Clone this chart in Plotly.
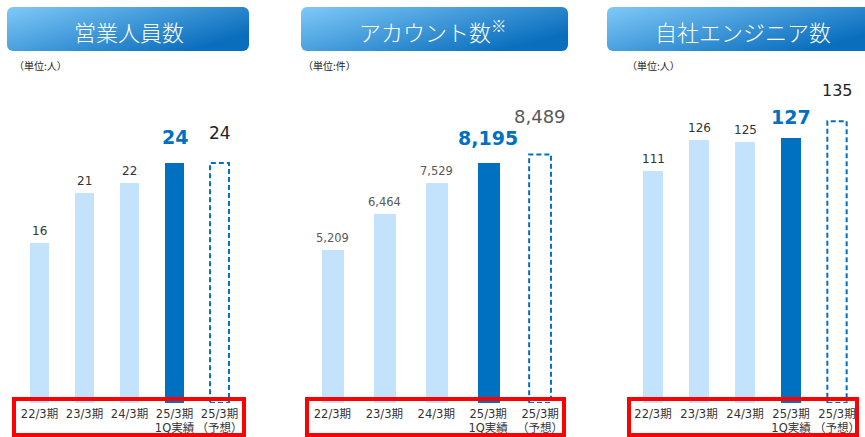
import base64
import plotly.graph_objects as go

# ---------------- data ----------------
categories = ["22/3期", "23/3期", "24/3期", "25/3期 1Q実績", "25/3期 予想"]
tick_labels = ["22/3期", "23/3期", "24/3期", "25/3期<br>1Q実績", "25/3期<br>（予想）"]
sales_staff = [16, 21, 22, 24, 24]
accounts = [5209, 6464, 7529, 8195, 8489]
engineers = [111, 126, 125, 127, 135]
titles = ["営業人員数", "アカウント数<sup>※</sup>", "自社エンジニア数"]
units = ["（単位:人）", "（単位:件）", "（単位:人）"]
series = [sales_staff, accounts, engineers]
value_formats = ["{:d}", "{:,}", "{:d}"]

# ---------------- style ----------------
W, H = 865, 437
FONT = "Noto Sans CJK JP, Noto Sans, sans-serif"
NUM_FONT = "DejaVu Sans, Noto Sans CJK JP, sans-serif"
LIGHT = "#C2E3FB"
DARK = "#0070C0"
RED = "#FF0000"
BAR_W = 0.42

panels = [
    dict(xdom=(17, 242), ymax=40.3, header=(7, 249), unit_x=12,
         box=(14, 244), small_col="#333333", fc_col="#222222", fc_size=17,
         fc_off=30, act_off=26, small_size=12),
    dict(xdom=(306.5, 566), ymax=13761, header=(301, 568), unit_x=301,
         box=(307, 564), small_col="#595959", fc_col="#595959", fc_size=18,
         fc_off=38, act_off=25, small_size=11.5),
    dict(xdom=(630, 860), ymax=193.1, header=(607, 872), unit_x=625,
         box=(629, 857), small_col="#333333", fc_col="#222222", fc_size=16,
         fc_off=31, act_off=21, small_size=12),
]

Y_BOTTOM_PX = 403  # pixel row of the bars' baseline


def header_svg(w, h):
    svg = (
        f'<svg xmlns="http://www.w3.org/2000/svg" width="{w}" height="{h}" '
        f'viewBox="0 0 {w} {h}" preserveAspectRatio="none">'
        '<defs><linearGradient id="g" x1="0" y1="0" x2="1" y2="0.6">'
        '<stop offset="0" stop-color="#7FC9F8"/>'
        '<stop offset="1" stop-color="#0A6EBD"/>'
        '</linearGradient></defs>'
        f'<rect x="0" y="0" width="{w}" height="{h}" rx="6" ry="6" fill="url(#g)"/>'
        '</svg>'
    )
    return "data:image/svg+xml;base64," + base64.b64encode(svg.encode()).decode()


fig = go.Figure()
shapes, annotations, images = [], [], []
layout_axes = {}

for i, (p, vals) in enumerate(zip(panels, series)):
    n = i + 1
    xa = "x" if n == 1 else f"x{n}"
    ya = "y" if n == 1 else f"y{n}"
    colors = [LIGHT, LIGHT, LIGHT, DARK, "rgba(0,0,0,0)"]
    fig.add_trace(go.Bar(
        x=categories, y=vals, xaxis=xa, yaxis=ya, width=BAR_W,
        marker=dict(color=colors, line=dict(width=0)),
        hoverinfo="skip", showlegend=False,
    ))
    # dashed forecast outline (data coords)
    shapes.append(dict(
        type="rect", xref=xa, yref=ya,
        x0=4 - BAR_W / 2, x1=4 + BAR_W / 2, y0=0, y1=vals[4],
        line=dict(color=DARK, width=2, dash="5px,3px"),
        fillcolor="rgba(0,0,0,0)", layer="above",
    ))
    fmt = value_formats[i]
    for j, v in enumerate(vals):
        txt = fmt.format(v)
        if j < 3:
            font = dict(family=NUM_FONT, size=p["small_size"], color=p["small_col"])
            off = 12
        elif j == 3:
            font = dict(family=NUM_FONT, size=19, color=DARK, weight="bold")
            off = p["act_off"]
        else:
            font = dict(family=NUM_FONT, size=p["fc_size"], color=p["fc_col"])
            off = p["fc_off"]
        annotations.append(dict(
            xref=xa, yref=ya, x=categories[j], y=v, text=txt,
            showarrow=False, yanchor="middle", yshift=off, font=font,
        ))
    # axes
    layout_axes["xaxis" if n == 1 else f"xaxis{n}"] = dict(
        domain=[p["xdom"][0] / W, p["xdom"][1] / W], anchor=ya,
        type="category", categoryorder="array", categoryarray=categories,
        range=[-0.5, 4.5], tickmode="array", tickvals=categories,
        ticktext=tick_labels, tickangle=0, showgrid=False, zeroline=False,
        showline=False, ticks="",
        tickfont=dict(family=NUM_FONT, size=11.5, color="#333333"),
        automargin=False, fixedrange=True, ticklabelstandoff=2,
    )
    layout_axes["yaxis" if n == 1 else f"yaxis{n}"] = dict(
        domain=[(H - Y_BOTTOM_PX) / H, 1], anchor=xa, range=[0, p["ymax"]],
        showgrid=False, zeroline=False, showline=False, showticklabels=False,
        ticks="", automargin=False, fixedrange=True,
    )
    # header box
    hx0, hx1 = p["header"]
    images.append(dict(
        source=header_svg(hx1 - hx0, 44), xref="paper", yref="paper",
        x=hx0 / W, y=1 - 7 / H, sizex=(hx1 - hx0) / W, sizey=44 / H,
        xanchor="left", yanchor="top", sizing="stretch", layer="below",
    ))
    title_cx = [129, 432, 743][i]
    annotations.append(dict(
        xref="paper", yref="paper", x=title_cx / W,
        y=1 - 31 / H, text=titles[i], showarrow=False, xanchor="center",
        yanchor="middle", font=dict(family=FONT, size=22, color="white", weight=300),
    ))
    annotations.append(dict(
        xref="paper", yref="paper", x=p["unit_x"] / W, y=1 - 66 / H,
        text=units[i], showarrow=False, xanchor="left", yanchor="middle",
        font=dict(family=FONT, size=10, color="#222222"),
    ))
    # red frame around category labels
    bx0, bx1 = p["box"]
    shapes.append(dict(
        type="rect", xref="paper", yref="paper",
        x0=bx0 / W, x1=bx1 / W, y0=1 - 435 / H, y1=1 - 399 / H,
        line=dict(color=RED, width=4), fillcolor="rgba(0,0,0,0)", layer="above",
    ))

fig.update_layout(
    width=W, height=H, margin=dict(l=0, r=0, t=0, b=0, pad=0),
    paper_bgcolor="white", plot_bgcolor="rgba(0,0,0,0)",
    template="none", bargap=0, showlegend=False,
    shapes=shapes, annotations=annotations, images=images,
    font=dict(family=FONT),
    **layout_axes,
)

fig.write_html("out.html", config={"displayModeBar": False})
